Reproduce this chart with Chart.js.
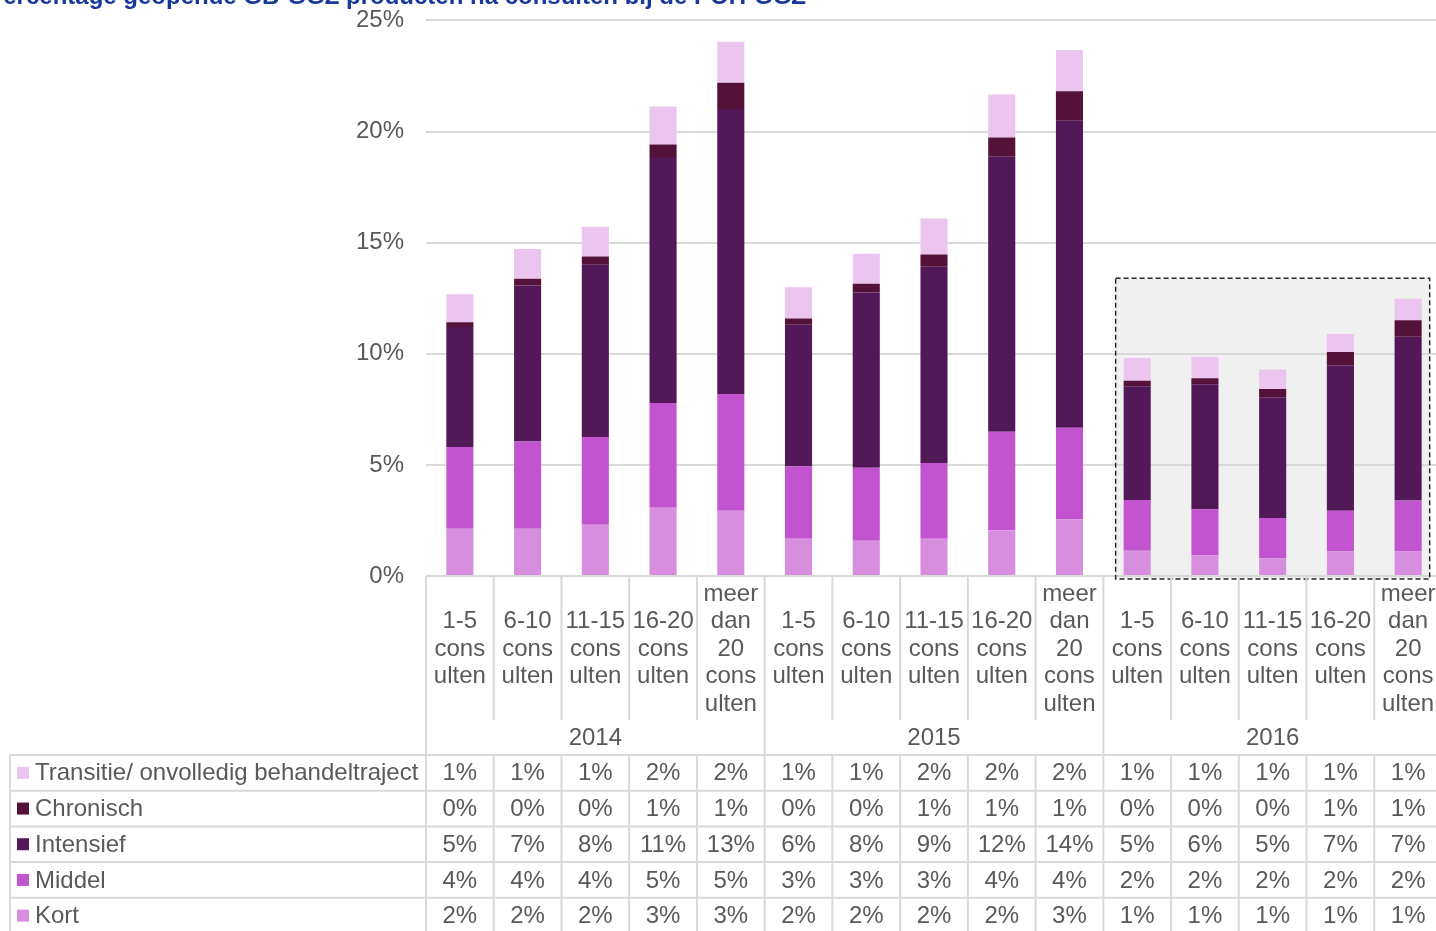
<!DOCTYPE html>
<html>
<head>
<meta charset="utf-8">
<script src="https://cdn.jsdelivr.net/npm/chart.js@4.4.1/dist/chart.umd.min.js"></script>
<style>
  html, body { margin: 0; padding: 0; background: #fff; overflow: hidden; }
  canvas { display: block; margin-top: -16px; }
</style>
</head>
<body>
<canvas id="myChart" width="1442" height="947"></canvas>
<script>
// data (percent)
var years = ["2014", "2015", "2016"];
var bins = [
    ["1-5", "cons", "ulten"],
    ["6-10", "cons", "ulten"],
    ["11-15", "cons", "ulten"],
    ["16-20", "cons", "ulten"],
    ["meer", "dan", "20", "cons", "ulten"]
];
var kort      = [2.13, 2.13, 2.31, 3.07, 2.94, 1.68, 1.59, 1.68, 2.06, 2.54, 1.14, 0.92, 0.80, 1.10, 1.10];
var middel    = [3.68, 3.92, 3.95, 4.71, 5.25, 3.26, 3.28, 3.41, 4.43, 4.13, 2.28, 2.08, 1.81, 1.84, 2.30];
var intensief = [5.39, 7.02, 7.75, 11.03, 12.82, 6.37, 7.89, 8.83, 12.37, 13.81, 5.12, 5.63, 5.43, 6.54, 7.36];
var chronisch = [0.22, 0.30, 0.37, 0.61, 1.18, 0.28, 0.39, 0.55, 0.87, 1.33, 0.24, 0.27, 0.37, 0.60, 0.75];
var transitie = [1.26, 1.34, 1.33, 1.71, 1.85, 1.40, 1.35, 1.62, 1.94, 1.86, 1.03, 0.96, 0.88, 0.81, 0.97];
var yTicks = [0, 5, 10, 15, 20, 25];

var title = "Percentage geopende GB-GGZ producten na consulten bij de POH-GGZ";
var font = '"Liberation Sans", Arial, sans-serif';
var fontSize = 24;
var textColor = "#595959";
var lineColor = "#d9d9d9";
var shift = 16; // canvas is pulled up by this much (see css)

// one label per bar: year x bin
var labels = [];
years.forEach(function (yr) {
    bins.forEach(function (b) { labels.push(b.join(" ") + " " + yr); });
});

// bottom to top in the stack
var series = [
    { label: "Kort", data: kort, color: "#d78ede" },
    { label: "Middel", data: middel, color: "#c255cf" },
    { label: "Intensief", data: intensief, color: "#521857" },
    { label: "Chronisch", data: chronisch, color: "#54113a" },
    { label: "Transitie/ onvolledig behandeltraject", data: transitie, color: "#ebc5ef" }
];

var tablePlugin = {
    id: "tablePlugin",
    beforeDraw: function (chart) {
        // grey box behind the 2016 bars (drawn before grid)
        var ctx = chart.ctx;
        var meta = chart.getDatasetMeta(0);
        var a = meta.data[10], b = meta.data[14];
        var y = chart.scales.y;
        var left = a.x - a.width / 2 - 8;
        var right = b.x + b.width / 2 + 8;
        var top = y.getPixelForValue(13.4);
        var bottom = y.getPixelForValue(0) + 3;
        chart.$box = { left: left, right: right, top: top, bottom: bottom };
        ctx.save();
        ctx.fillStyle = "#f0f0f0";
        ctx.fillRect(left, top, right - left, bottom - top);
        ctx.restore();
    },
    afterDraw: function (chart) {
        var ctx = chart.ctx;
        var x = chart.scales.x;
        var area = chart.chartArea;
        var cw = x.getPixelForValue(1) - x.getPixelForValue(0);
        var base = area.bottom;
        var labelBottom = base + 144;
        var yearBottom = base + 179;
        var rowH = 35.7;
        var H = chart.height;

        ctx.save();

        // dashed border of the highlight box
        var bx = chart.$box;
        ctx.strokeStyle = "#262626";
        ctx.lineWidth = 1.5;
        ctx.setLineDash([5, 3]);
        ctx.strokeRect(bx.left, bx.top, bx.right - bx.left, bx.bottom - bx.top);
        ctx.setLineDash([]);

        // table grid lines
        ctx.strokeStyle = lineColor;
        ctx.lineWidth = 2;
        ctx.beginPath();
        for (var i = 0; i <= labels.length; i++) {
            var lx = x.getPixelForValue(i) - cw / 2;
            if (i % bins.length === 0) {
                ctx.moveTo(lx, base); ctx.lineTo(lx, H);
            } else {
                ctx.moveTo(lx, base); ctx.lineTo(lx, labelBottom);
                ctx.moveTo(lx, yearBottom); ctx.lineTo(lx, H);
            }
        }
        ctx.moveTo(10, yearBottom); ctx.lineTo(10, H);
        for (var r = 0; r <= series.length; r++) {
            var ly = yearBottom + r * rowH;
            ctx.moveTo(10, ly); ctx.lineTo(chart.width, ly);
        }
        ctx.stroke();

        ctx.fillStyle = textColor;
        ctx.font = fontSize + "px " + font;
        ctx.textAlign = "center";
        ctx.textBaseline = "middle";

        // category labels
        var lh = 27.5;
        var midY = (base + labelBottom) / 2;
        for (var i = 0; i < labels.length; i++) {
            var lines = bins[i % bins.length];
            var cx = x.getPixelForValue(i);
            var y0 = midY - (lines.length - 1) * lh / 2;
            lines.forEach(function (t, k) { ctx.fillText(t, cx, y0 + k * lh + 1); });
        }

        // years
        years.forEach(function (yr, g) {
            var l = x.getPixelForValue(g * bins.length) - cw / 2;
            ctx.fillText(yr, l + cw * bins.length / 2, (labelBottom + yearBottom) / 2 + 1);
        });

        // table rows, top row is the top of the stack
        var rows = series.slice().reverse();
        rows.forEach(function (s, r) {
            var cy = yearBottom + r * rowH + rowH / 2;
            ctx.fillStyle = s.color;
            ctx.fillRect(17, cy - 6, 12, 12);
            ctx.fillStyle = textColor;
            ctx.textAlign = "left";
            ctx.fillText(s.label, 35, cy + 1);
            ctx.textAlign = "center";
            s.data.forEach(function (v, i) {
                ctx.fillText(Math.round(v) + "%", x.getPixelForValue(i), cy + 1);
            });
        });

        // title, cut off at the top like the picture
        ctx.fillStyle = "#17389a";
        ctx.font = "bold 24px " + font;
        ctx.textAlign = "right";
        ctx.textBaseline = "alphabetic";
        ctx.fillText(title, 806, shift + 4);

        ctx.restore();
    }
};

var chart = new Chart(document.getElementById("myChart"), {
    type: "bar",
    data: {
        labels: labels,
        datasets: series.map(function (s) {
            return {
                label: s.label,
                data: s.data,
                backgroundColor: s.color,
                borderWidth: 0,
                barPercentage: 0.4,
                categoryPercentage: 1
            };
        })
    },
    options: {
        responsive: false,
        animation: false,
        layout: { padding: { left: 0, right: 0, top: 0, bottom: 355 } },
        plugins: {
            legend: { display: false },
            tooltip: { enabled: false }
        },
        scales: {
            x: {
                stacked: true,
                display: false
            },
            y: {
                stacked: true,
                min: 0,
                max: 25,
                afterFit: function (s) { s.width = 426; },
                afterBuildTicks: function (s) {
                    s.ticks = yTicks.map(function (v) { return { value: v }; });
                },
                border: { display: false },
                grid: { color: lineColor, lineWidth: 2, drawTicks: false },
                ticks: {
                    padding: 22,
                    color: textColor,
                    font: { size: fontSize, family: font },
                    callback: function (v) { return v + "%"; }
                }
            }
        }
    },
    plugins: [tablePlugin]
});
</script>
</body>
</html>
